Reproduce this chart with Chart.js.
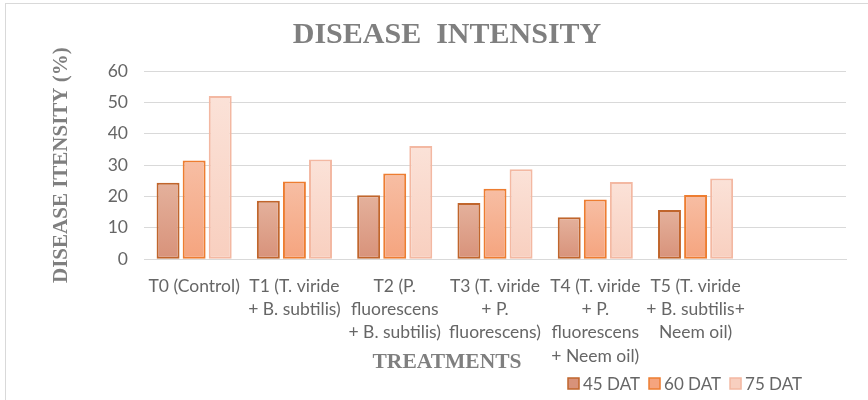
<!DOCTYPE html>
<html>
<head>
<meta charset="utf-8">
<script src="https://cdn.jsdelivr.net/npm/chart.js@4.4.1/dist/chart.umd.min.js"></script>
<style>
  body { margin: 0; background: #fff; }
  #wrap { position: relative; width: 868px; height: 400px; overflow: hidden; }
  #frame { position: absolute; left: 5px; top: 3px; width: 900px; height: 430px; border: 1px solid #d9d9d9; }
  #chart { position: absolute; left: 0; top: 0; }
</style>
</head>
<body>
<div id="wrap">
  <div id="frame"></div>
  <canvas id="chart" width="868" height="400"></canvas>
</div>
<script>
// data
const categories = [
  'T0 (Control)',
  ['T1 (T. viride', '+ B. subtilis)'],
  ['T2 (P.', 'fluorescens', '+ B. subtilis)'],
  ['T3 (T. viride', '+ P.', 'fluorescens)'],
  ['T4 (T. viride', '+ P.', 'fluorescens', '+ Neem oil)'],
  ['T5 (T. viride', '+ B. subtilis+', 'Neem oil)']
];
const seriesNames = ['45 DAT', '60 DAT', '75 DAT'];
const dat45 = [24.4, 18.6, 20.4, 17.9, 13.4, 15.7];
const dat60 = [31.5, 24.8, 27.3, 22.5, 19.0, 20.5];
const dat75 = [52.0, 31.8, 36.1, 28.7, 24.6, 25.7];
const yMin = 0, yMax = 60, yStep = 10;

const TICK_FONT = 'Lato';
const SERIF = '"Liberation Serif", "Times New Roman", serif';

// top/bottom colours of each series gradient + border
const palette = [
  { top: '#e4b19c', bottom: '#d8927a', border: '#c0652c' },
  { top: '#f7bea4', bottom: '#f5a47e', border: '#ed7d31' },
  { top: '#fbe2d8', bottom: '#f8cfbf', border: '#f3b8a2' }
];

function barGradient(pal) {
  return (c) => {
    const chart = c.chart;
    if (!chart.chartArea || c.raw == null) return pal.bottom;
    const y = chart.scales.y;
    const top = y.getPixelForValue(c.raw);
    const base = y.getPixelForValue(0);
    const g = chart.ctx.createLinearGradient(0, top, 0, base);
    g.addColorStop(0, pal.top);
    g.addColorStop(1, pal.bottom);
    return g;
  };
}

// legend drawn at the lower right like the original
const cornerLegend = {
  id: 'cornerLegend',
  afterDraw(chart) {
    const ctx = chart.ctx;
    ctx.save();
    ctx.font = '17px ' + TICK_FONT;
    ctx.textBaseline = 'middle';
    let x = 568;
    const y = 384;
    chart.data.datasets.forEach((ds, i) => {
      const pal = palette[i];
      ctx.fillStyle = pal.bottom;
      ctx.fillRect(x, y - 6, 11, 11);
      ctx.strokeStyle = pal.border;
      ctx.lineWidth = 1.5;
      ctx.strokeRect(x, y - 6, 11, 11);
      ctx.fillStyle = '#666';
      ctx.fillText(ds.label, x + 15, y + 1);
      x += 15 + ctx.measureText(ds.label).width + 9;
    });
    ctx.restore();
  }
};

const seriesData = [dat45, dat60, dat75];

new Chart(document.getElementById('chart'), {
  type: 'bar',
  data: {
    labels: [...categories, ''],
    datasets: seriesNames.map((name, i) => ({
      label: name,
      data: seriesData[i],
      backgroundColor: barGradient(palette[i]),
      borderColor: palette[i].border,
      borderWidth: 2,
      borderSkipped: false,
      categoryPercentage: 0.78,
      barPercentage: 0.88
    }))
  },
  options: {
    responsive: false,
    animation: false,
    layout: { padding: { left: 48, right: 22, top: 0, bottom: 0 } },
    plugins: {
      legend: { display: false },
      tooltip: { enabled: false },
      title: {
        display: true,
        text: 'DISEASE  INTENSITY',
        color: '#7f7f7f',
        font: { family: SERIF, size: 30, weight: 'bold', lineHeight: 1.2 },
        padding: { top: 17, bottom: 18 }
      },
      subtitle: {
        display: true,
        position: 'bottom',
        text: 'TREATMENTS',
        color: '#7f7f7f',
        font: { family: SERIF, size: 21.5, weight: 'bold', lineHeight: 1.2 },
        // negative top padding lets the title sit beside the long T4 label
        padding: { top: -21, bottom: 25 }
      }
    },
    scales: {
      x: {
        grid: { display: false, drawTicks: false },
        border: { display: true, color: '#d9d9d9', width: 1 },
        ticks: {
          color: '#666',
          font: { family: TICK_FONT, size: 17.5, lineHeight: 1.34 },
          padding: 15,
          maxRotation: 0,
          autoSkip: false
        },
        afterFit(scale) { scale.height = 111; }
      },
      y: {
        min: yMin,
        max: yMax,
        grid: { color: '#d9d9d9', lineWidth: 1, drawTicks: false },
        border: { display: false },
        ticks: {
          stepSize: yStep,
          color: '#666',
          font: { family: TICK_FONT, size: 17.5 },
          padding: 16
        },
        title: {
          display: true,
          text: 'DISEASE ITENSITY (%)',
          color: '#7f7f7f',
          font: { family: SERIF, size: 21, weight: 'bold', lineHeight: 1.2 },
          padding: { top: 1, bottom: 0 }
        },
        afterFit(scale) { scale.width = 96; }
      }
    }
  },
  plugins: [cornerLegend]
});
</script>
</body>
</html>
